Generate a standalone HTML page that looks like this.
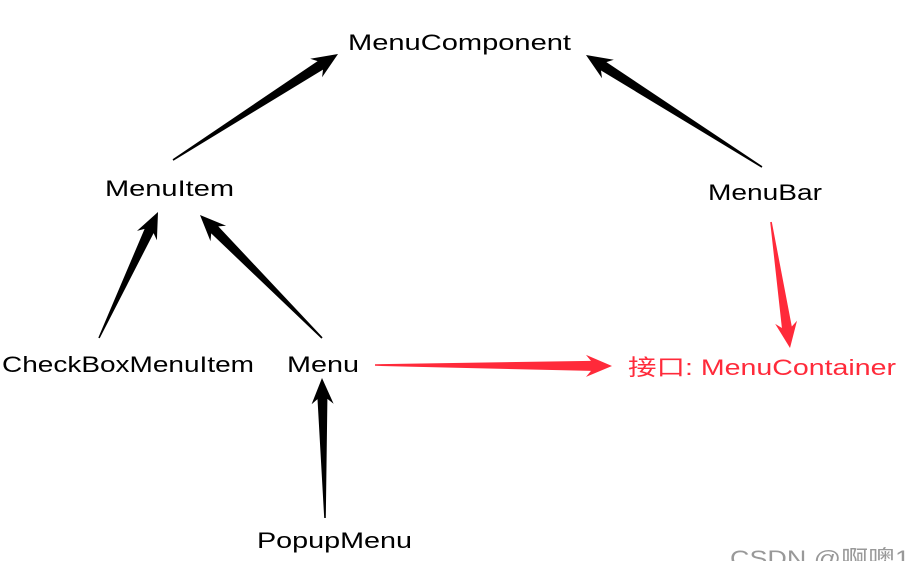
<!DOCTYPE html>
<html><head><meta charset="utf-8"><style>
html,body{margin:0;padding:0;background:#fff;}
svg{display:block;}
text{font-family:"Liberation Sans","Noto Sans CJK SC",sans-serif;font-size:22px;}
</style></head><body>
<svg id="s" width="906" height="561" xmlns="http://www.w3.org/2000/svg">
<text x="348" y="50" textLength="223" lengthAdjust="spacingAndGlyphs">MenuComponent</text>
<text x="105" y="196" textLength="129" lengthAdjust="spacingAndGlyphs">MenuItem</text>
<text x="708" y="200" textLength="114" lengthAdjust="spacingAndGlyphs">MenuBar</text>
<text x="2" y="372" textLength="252" lengthAdjust="spacingAndGlyphs">CheckBoxMenuItem</text>
<text x="287" y="372" textLength="72" lengthAdjust="spacingAndGlyphs">Menu</text>
<text x="628" y="375" fill="#ff2a3a" textLength="268" lengthAdjust="spacingAndGlyphs">接口: MenuContainer</text>
<text x="257" y="548" textLength="155" lengthAdjust="spacingAndGlyphs">PopupMenu</text>
<text x="730" y="566" fill="#999" textLength="180" lengthAdjust="spacingAndGlyphs">CSDN @啊噢1</text>
</svg>
<script>
var s=document.getElementById('s');
function arrow(x1,y1,x2,y2,c){
 var dx=x2-x1,dy=y2-y1,L=Math.hypot(dx,dy),ux=dx/L,uy=dy/L,nx=-uy,ny=ux;
 var hl=26,hw=11,bw=5,tw=0.8;
 var bx=x2-ux*(hl-5),by=y2-uy*(hl-5);
 var hx=x2-ux*hl,hy=y2-uy*hl;
 var p=[[x1+nx*tw,y1+ny*tw],[bx+nx*bw,by+ny*bw],[hx+nx*hw,hy+ny*hw],[x2,y2],[hx-nx*hw,hy-ny*hw],[bx-nx*bw,by-ny*bw],[x1-nx*tw,y1-ny*tw]];
 var e=document.createElementNS('http://www.w3.org/2000/svg','polygon');
 e.setAttribute('points',p.map(function(q){return q[0].toFixed(1)+','+q[1].toFixed(1)}).join(' '));
 e.setAttribute('fill',c);s.appendChild(e);
}
arrow(173,160,338,54,'#000');
arrow(762,167,586,55,'#000');
arrow(99,338,158,212,'#000');
arrow(322,338,200,215,'#000');
arrow(325,518,322,378,'#000');
arrow(375,365,612,366,'#ff2a3a');
arrow(771,222,790,348,'#ff2a3a');
</script>
</body></html>
